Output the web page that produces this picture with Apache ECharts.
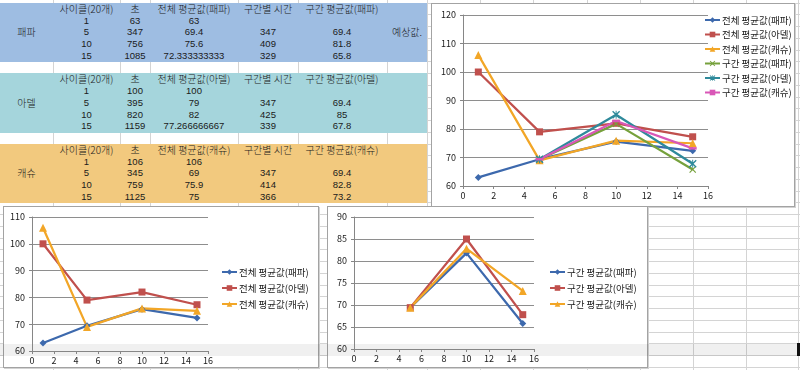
<!DOCTYPE html>
<html><head><meta charset="utf-8">
<script src="https://cdn.jsdelivr.net/npm/echarts@6/dist/echarts.min.js"></script>
<style>
html,body{margin:0;padding:0;width:800px;height:370px;overflow:hidden;background:#fff;font-family:"Noto Sans CJK KR","Noto Sans",sans-serif;}
#page{position:relative;width:800px;height:370px;overflow:hidden;}
.abs{position:absolute;}
.cell{position:absolute;font-size:10px;line-height:12px;color:#1a1a1a;white-space:nowrap;transform:translate(-50%,-50%);font-weight:300;}
.num{font-family:"Liberation Sans",Arial,sans-serif;font-size:9.5px;font-weight:400;}
.box{position:absolute;background:#fff;border:1px solid #a3a3a3;box-shadow:1px 1px 0 #d2d2d2;box-sizing:border-box;z-index:3;}
.chart{position:absolute;z-index:5;}
</style></head><body><div id="page"></div>
<script>
// ---------- data ----------
const cycles = [1, 5, 10, 15];
const players = ['패파', '아델', '캐슈'];
const papaSeconds = [63, 347, 756, 1085];
const papaTotalAvg = [63, 69.4, 75.6, 72.333333333];
const papaSegTime = [null, 347, 409, 329];
const papaSegAvg = [null, 69.4, 81.8, 65.8];
const adelSeconds = [100, 395, 820, 1159];
const adelTotalAvg = [100, 79, 82, 77.266666667];
const adelSegTime = [null, 347, 425, 339];
const adelSegAvg = [null, 69.4, 85, 67.8];
const cashSeconds = [106, 345, 759, 1125];
const cashTotalAvg = [106, 69, 75.9, 75];
const cashSegTime = [null, 347, 414, 366];
const cashSegAvg = [null, 69.4, 82.8, 73.2];
const totalNames = ['전체 평균값(패파)', '전체 평균값(아델)', '전체 평균값(캐슈)'];
const segNames = ['구간 평균값(패파)', '구간 평균값(아델)', '구간 평균값(캐슈)'];
const headerCycle = '사이클(20개)';
const headerSec = '초';
const headerSegTime = '구간별 시간';
const noteText = '예상값.';
const xTicks = [0, 16, 2];

// ---------- spreadsheet background ----------
const page = document.getElementById('page');
const rowH = 11.75, y0 = 2.5;
function add(cls, style, text) {
  const d = document.createElement('div');
  d.className = cls;
  Object.assign(d.style, style);
  if (text !== undefined) d.textContent = text;
  page.appendChild(d);
  return d;
}
const colLines = [53, 120, 150, 238, 298, 387, 427, 480, 533, 587, 640, 693, 746, 798];
for (const x of colLines) add('abs', {left: x + 'px', top: '0px', width: '1px', height: '370px', background: '#d4d4d4', zIndex: 1});
for (let k = 0; k < 32; k++) add('abs', {left: '0px', top: (y0 + k * rowH) + 'px', width: '800px', height: '1px', background: '#d4d4d4', zIndex: 1});

const bandColors = ['#9ebde2', '#a5d5dc', '#f2c97e'];
const bandStartRows = [0, 6, 12];
const colCenters = [26.5, 86.5, 135, 194, 268, 342, 407];
const tableData = [
  [papaSeconds, papaTotalAvg, papaSegTime, papaSegAvg],
  [adelSeconds, adelTotalAvg, adelSegTime, adelSegAvg],
  [cashSeconds, cashTotalAvg, cashSegTime, cashSegAvg]
];
bandStartRows.forEach((r0, i) => {
  add('abs', {left: '0px', top: (y0 + r0 * rowH) + 'px', width: '427px', height: (5 * rowH + 1) + 'px', background: bandColors[i], zIndex: 2});
  const yc = r => (y0 + (r0 + r + 0.5) * rowH + 0.5) + 'px';
  const hdr = [headerCycle, headerSec, totalNames[i], headerSegTime, segNames[i]];
  hdr.forEach((t, c) => add('cell', {left: colCenters[c + 1] + 'px', top: yc(0), zIndex: 4}, t));
  add('cell', {left: colCenters[0] + 'px', top: yc(2), zIndex: 4}, players[i]);
  if (i === 0) add('cell', {left: colCenters[6] + 'px', top: yc(2), zIndex: 4}, noteText);
  const [sec, tot, st, sa] = tableData[i];
  cycles.forEach((cy, j) => {
    const vals = [cy, sec[j], tot[j], st[j], sa[j]];
    vals.forEach((v, c) => {
      if (v === null) return;
      add('cell num', {left: colCenters[c + 1] + 'px', top: yc(j + 1), zIndex: 4}, String(v));
    });
  });
});

// chart boxes
const boxes = [
  {left: 431, top: 3, w: 364, h: 204},
  {left: 3, top: 206, w: 316, h: 162},
  {left: 327, top: 206, w: 321, h: 162}
];
boxes.forEach(b => add('box', {left: b.left + 'px', top: b.top + 'px', width: b.w + 'px', height: b.h + 'px'}));
// selected-row highlight and cell cursor
add('abs', {left: '0px', top: (y0 + 29 * rowH + 0.5) + 'px', width: '800px', height: rowH + 'px', background: 'rgba(0,0,0,0.06)', zIndex: 4});
add('abs', {left: '797px', top: (y0 + 29 * rowH) + 'px', width: '3px', height: (rowH + 1) + 'px', background: '#111', zIndex: 6});

// ---------- charts ----------
const C = {
  blue: '#3d69ad', red: '#c0504d', orange: '#f2a627',
  green: '#76a13c', teal: '#2f8a9b', pink: '#d957b7'
};
const SYM_X = 'path://M0,1.2L1.2,0L5,3.8L8.8,0L10,1.2L6.2,5L10,8.8L8.8,10L5,6.2L1.2,10L0,8.8L3.8,5Z';
const SYM_STAR = 'path://M0,1.2L1.2,0L5,3.8L8.8,0L10,1.2L6.2,5L10,8.8L8.8,10L5,6.2L1.2,10L0,8.8L3.8,5ZM4.4,0L5.6,0L5.6,10L4.4,10Z';
const styles = {
  blueD: {color: C.blue, symbol: 'diamond', symbolSize: 7},
  redS: {color: C.red, symbol: 'rect', symbolSize: 7},
  orT: {color: C.orange, symbol: 'triangle', symbolSize: 8},
  grX: {color: C.green, symbol: SYM_X, symbolSize: 7},
  tlS: {color: C.teal, symbol: SYM_STAR, symbolSize: 8},
  pkD: {color: C.pink, symbol: 'rect', symbolSize: [8, 2.5]}
};
function pairs(ys) {
  const out = [];
  cycles.forEach((x, i) => { if (ys[i] !== null) out.push([x, ys[i]]); });
  return out;
}
function mkSeries(name, ys, st) {
  return {
    type: 'line', name, data: pairs(ys), symbol: st.symbol, symbolSize: st.symbolSize,
    showSymbol: true, animation: false,
    lineStyle: {color: st.color, width: 2.25},
    itemStyle: {color: st.color, borderWidth: 0}
  };
}
const FONT = '"Noto Sans CJK KR","Noto Sans",sans-serif';
function makeChart(boxIdx, grid, yRange, series, legendPos, legendGap) {
  const b = boxes[boxIdx];
  const el = document.createElement('div');
  el.className = 'chart';
  Object.assign(el.style, {left: b.left + 'px', top: b.top + 'px', width: b.w + 'px', height: b.h + 'px'});
  page.appendChild(el);
  const ch = echarts.init(el, null, {renderer: 'canvas'});
  const axisCommon = {
    axisLine: {show: true, lineStyle: {color: '#868686', width: 1}},
    axisTick: {show: true, inside: false, length: 3, lineStyle: {color: '#868686'}},
    axisLabel: {color: '#1a1a1a', fontSize: 9, fontFamily: FONT},
  };
  ch.setOption({
    animation: false,
    backgroundColor: 'transparent',
    grid: Object.assign({containLabel: false, outerBoundsMode: 'none'}, grid),
    xAxis: Object.assign({type: 'value', min: xTicks[0], max: xTicks[1], interval: xTicks[2],
      splitLine: {show: false}}, axisCommon, {axisLabel: Object.assign({}, axisCommon.axisLabel, {margin: 5})}),
    yAxis: Object.assign({type: 'value', min: yRange[0], max: yRange[1], interval: yRange[2],
      splitLine: {show: true, lineStyle: {color: '#8e8e8e', width: 1}}}, axisCommon, {axisLabel: Object.assign({}, axisCommon.axisLabel, {margin: 7})}),
    legend: {
      orient: 'vertical', left: legendPos[0], top: legendPos[1], padding: 0,
      itemWidth: 15, itemHeight: 7, itemGap: legendGap, selectedMode: false,
      textStyle: {color: '#1a1a1a', fontSize: 9.5, fontFamily: FONT, lineHeight: 12, padding: [0, 0, 0, -3]},
      data: series.map(s => s.name)
    },
    series
  });
}
// Chart 1: all six series
makeChart(0, {left: 32, top: 12, width: 245, height: 171}, [60, 120, 10], [
  mkSeries(totalNames[0], papaTotalAvg, styles.blueD),
  mkSeries(totalNames[1], adelTotalAvg, styles.redS),
  mkSeries(totalNames[2], cashTotalAvg, styles.orT),
  mkSeries(segNames[0], papaSegAvg, styles.grX),
  mkSeries(segNames[1], adelSegAvg, styles.tlS),
  mkSeries(segNames[2], cashSegAvg, styles.pkD)
], [273, 11], 2.5);
// Chart 2: overall averages
makeChart(1, {left: 29, top: 11, width: 176, height: 134}, [60, 110, 10], [
  mkSeries(totalNames[0], papaTotalAvg, styles.blueD),
  mkSeries(totalNames[1], adelTotalAvg, styles.redS),
  mkSeries(totalNames[2], cashTotalAvg, styles.orT)
], [218, 60], 4);
// Chart 3: interval averages
makeChart(2, {left: 27, top: 11, width: 180, height: 132}, [60, 90, 5], [
  mkSeries(segNames[0], papaSegAvg, styles.blueD),
  mkSeries(segNames[1], adelSegAvg, styles.redS),
  mkSeries(segNames[2], cashSegAvg, styles.orT)
], [222, 60], 4);
</script>
</body></html>
